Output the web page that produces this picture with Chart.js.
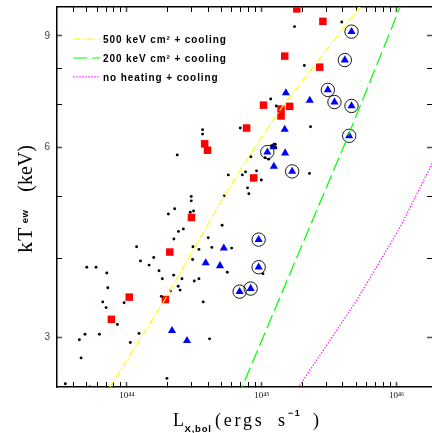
<!DOCTYPE html>
<html>
<head>
<meta charset="utf-8">
<script src="https://cdn.jsdelivr.net/npm/chart.js@4.4.1/dist/chart.umd.min.js"></script>
<style>
html,body{margin:0;padding:0;background:#fff;overflow:hidden;}
#wrap{width:432px;height:433px;position:relative;}
#wrap canvas{display:block;}
</style>
</head>
<body>
<div id="wrap"><canvas id="c"></canvas></div>
<script>
// ---- data (L_X,bol in erg/s, kT_ew in keV) ----
const dotsL = [3.64e44,3.64e44,2.36e44,3.00e44,3.00e44,2.26e44,2.03e44,2.95e44,3.12e44,5.26e44,
  5.08e44,2.62e44,2.41e44,2.23e44,4.01e44,3.09e44,3.42e44,4.26e44,5.98e44,1.58e44,
  1.46e44,1.26e44,1.18e44,3.07e44,1.73e44,2.22e44,5.55e44,1.83e44,2.56e44,3.42e44,
  3.16e44,2.40e44,2.48e44,2.10e44,1.80e44,3.68e44,5.04e43,5.90e43,7.09e43,7.21e43,
  6.62e43,7.01e43,9.53e43,8.50e43,4.44e43,4.89e43,6.25e43,1.23e44,4.10e44,1.06e44,
  4.57e43,3.49e43,5.30e43,1.98e44,1.165e45,1.28e45,6.93e44,1.18e45,1.26e45,1.27e45,
  1.06e45,1.125e45,8.30e44,5.65e44,7.18e44,7.58e44,9.15e44,9.93e44,7.84e44,8.02e44,
  1.75e45,3.92e45,2.07e45,2.30e45,2.26e45,1.02e45];
const dotsKT = [6.39,6.29,5.83,5.01,4.93,4.79,4.70,4.73,4.75,5.02,
  4.51,4.45,4.41,4.29,4.31,4.17,4.13,4.16,4.15,4.01,
  3.90,3.96,4.17,3.98,3.82,3.76,3.80,3.71,3.71,3.71,
  3.68,3.61,3.56,3.55,3.48,3.41,3.87,3.87,3.79,3.59,
  3.41,3.34,3.40,3.14,2.97,3.03,3.03,3.04,2.98,2.94,
  2.78,2.53,2.50,2.58,7.15,6.97,6.43,6.03,6.06,5.99,
  5.77,5.74,5.79,5.42,5.42,5.48,5.50,5.32,5.17,5.06,
  9.31,9.47,8.08,6.46,5.45,3.78];

const squaresL = [1.82e45,2.84e45,1.48e45,2.69e45,1.03e45,1.39e45,1.61e45,1.39e45,7.72e44,3.77e44,
  3.96e44,8.71e44,3.01e44,2.08e44,1.93e44,1.04e44,7.67e43];
const squaresKT = [9.93,9.49,8.36,8.03,6.99,6.89,6.96,6.72,6.43,6.07,
  5.93,5.36,4.64,4.09,3.44,3.47,3.20];

const trianglesL = [1.51e45,2.27e45,1.48e45,1.22e45,1.49e45,1.23e45,5.23e44,4.90e44,3.84e44,2.16e44,2.79e44];
const trianglesKT = [7.31,7.11,6.40,6.00,5.87,5.59,4.15,3.89,3.93,3.07,2.96];

const circledL = [4.63e45,4.13e45,3.09e45,3.46e45,4.63e45,4.45e45,1.10e45,1.68e45,9.48e44,9.48e44,6.85e44,8.27e44];
const circledKT = [9.14,8.24,7.39,7.07,6.97,6.25,5.89,5.49,4.28,3.87,3.54,3.58];

const yellowL = [6.65e43,7.50e43,1.93e44,5.27e44,7.99e44,1.38e45,5.25e45,6.35e45];
const yellowKT = [2.40,2.50,3.45,5.02,5.79,6.89,9.96,10.5];
const greenL = [6.59e44,7.14e44,4.25e45,1.053e46,1.163e46];
const greenKT = [2.40,2.50,6.16,9.96,10.5];
const magentaL = [1.655e45,1.88e45,5.11e45,1.07e46,1.79e46,2.0e46];
const magentaKT = [2.40,2.50,3.44,4.49,5.59,5.86];

const legendLabels = ['500 keV cm\u00B2 + cooling','200 keV cm\u00B2 + cooling','no heating + cooling'];

const xTickValues = [4e43,5e43,6e43,7e43,8e43,9e43,
  1e44,2e44,3e44,4e44,5e44,6e44,7e44,8e44,9e44,
  1e45,2e45,3e45,4e45,5e45,6e45,7e45,8e45,9e45,1e46];
const xTickLabels = ['','','','','','',
  '10\u2074\u2074','','','','','','','','',
  '10\u2074\u2075','','','','','','','','','10\u2074\u2076'];
const yTickValues = [3,4,5,6,7,8,9];
const yTickLabels = ['3','','','6','','','9'];

const X_MIN = 3.03e43, X_MAX = 1.83e46, Y_MIN = 2.5, Y_MAX = 10;

// ---- helpers ----
const toXY = (xs, ys) => xs.map((x, i) => ({x: x, y: ys[i]}));
const isMajorX = v => xTickLabels[xTickValues.indexOf(v)] !== '';
const isMajorY = v => yTickLabels[yTickValues.indexOf(v)] !== '';
const noPad = s => { s.paddingTop = 0; s.paddingBottom = 0; s.paddingLeft = 0; s.paddingRight = 0; };

function tickGrid(majorFn) {
  return {
    drawOnChartArea: false,
    drawTicks: true,
    tickLength: -5,
    tickColor: c => (c.tick && majorFn(c.tick.value)) ? '#555' : '#000',
    tickWidth: c => (c.tick && majorFn(c.tick.value)) ? 1.6 : 1
  };
}

const overlay = {
  id: 'overlay',
  afterDraw(chart) {
    const ctx = chart.ctx;
    const ca = chart.chartArea;
    // legend inside plot
    const items = chart.data.datasets.filter(d => d.isModel);
    items.forEach((d, i) => {
      const y = ca.top + 32.2 + i * 18.8;
      ctx.save();
      ctx.strokeStyle = d.borderColor;
      ctx.lineWidth = d.borderWidth;
      ctx.setLineDash(d.borderDash || []);
      ctx.beginPath();
      ctx.moveTo(ca.left + 16.3, y);
      ctx.lineTo(ca.left + 43, y);
      ctx.stroke();
      ctx.setLineDash([]);
      ctx.fillStyle = '#000';
      ctx.font = 'bold 10px "Liberation Sans", Arial, sans-serif';
      ctx.letterSpacing = '0.9px';
      ctx.textBaseline = 'alphabetic';
      ctx.textAlign = 'left';
      ctx.fillText(d.label, ca.left + 46, y + 4.2);
      ctx.restore();
    });

    // x axis title: L_{X,bol} (ergs s^-1)
    ctx.save();
    ctx.fillStyle = '#000';
    ctx.textBaseline = 'alphabetic';
    ctx.textAlign = 'left';
    ctx.font = '18px "Liberation Serif", "Times New Roman", serif';
    ctx.letterSpacing = '0px';
    ctx.fillText('L', 173, 425.7);
    ctx.font = 'bold 9.5px "Liberation Sans", Arial, sans-serif';
    ctx.letterSpacing = '0.8px';
    ctx.fillText('X,bol', 184.5, 432);
    ctx.font = '18px "Liberation Serif", "Times New Roman", serif';
    ctx.letterSpacing = '2.8px';
    ctx.fillText('(ergs', 215, 425.7);
    ctx.fillText('s', 278, 425.7);
    ctx.font = 'bold 9px "Liberation Sans", Arial, sans-serif';
    ctx.letterSpacing = '1.5px';
    ctx.fillText('\u22121', 288, 415.5);
    ctx.font = '18px "Liberation Serif", "Times New Roman", serif';
    ctx.letterSpacing = '0px';
    ctx.fillText(')', 313, 425.7);
    ctx.restore();

    // y axis title: kT_{ew} (keV)
    ctx.save();
    ctx.translate(31.5, 253);
    ctx.rotate(-Math.PI / 2);
    ctx.fillStyle = '#000';
    ctx.textBaseline = 'alphabetic';
    ctx.textAlign = 'left';
    ctx.font = '22px "Liberation Serif", "Times New Roman", serif';
    ctx.letterSpacing = '1px';
    ctx.fillText('kT', 0, 0);
    ctx.font = 'bold 9.5px "Liberation Sans", Arial, sans-serif';
    ctx.letterSpacing = '0.5px';
    ctx.fillText('ew', 29.7, -3.5);
    ctx.font = '20px "Liberation Serif", "Times New Roman", serif';
    ctx.letterSpacing = '0px';
    ctx.fillText('(keV)', 61.3, 0);
    ctx.restore();
  }
};

new Chart(document.getElementById('c'), {
  type: 'scatter',
  data: {
    datasets: [
      {label: legendLabels[0], isModel: true, data: toXY(yellowL, yellowKT), showLine: true,
       borderColor: '#ffff00', borderWidth: 1.2, borderDash: [7, 2, 1.5, 2], pointRadius: 0, fill: false},
      {label: legendLabels[1], isModel: true, data: toXY(greenL, greenKT), showLine: true,
       borderColor: '#00ff00', borderWidth: 1.2, borderDash: [14, 5], pointRadius: 0, fill: false},
      {label: legendLabels[2], isModel: true, data: toXY(magentaL, magentaKT), showLine: true,
       borderColor: '#ff00ff', borderWidth: 1.2, borderDash: [1.3, 1.7], pointRadius: 0, fill: false},
      {label: 'other clusters', data: toXY(dotsL, dotsKT), showLine: false,
       pointRadius: 1.45, pointBackgroundColor: '#000', pointBorderWidth: 0, pointStyle: 'circle'},
      {label: 'squares', data: toXY(squaresL, squaresKT), showLine: false,
       pointRadius: 5.3, pointBackgroundColor: '#ff0000', pointBorderWidth: 0, pointStyle: 'rect'},
      {label: 'triangles', data: toXY(trianglesL, trianglesKT), showLine: false,
       pointRadius: 4.7, pointBackgroundColor: '#0000ff', pointBorderWidth: 0, pointStyle: 'triangle'},
      {label: 'circled triangles', data: toXY(circledL, circledKT), showLine: false,
       pointRadius: 4.7, pointBackgroundColor: '#0000ff', pointBorderWidth: 0, pointStyle: 'triangle'},
      {label: 'rings', data: toXY(circledL, circledKT), showLine: false,
       pointRadius: 6.7, pointBackgroundColor: 'rgba(0,0,0,0)', pointBorderColor: '#000', pointBorderWidth: 0.9, pointStyle: 'circle'}
    ]
  },
  options: {
    responsive: true,
    maintainAspectRatio: false,
    animation: false,
    layout: {padding: 0, autoPadding: false},
    plugins: {legend: {display: false}, tooltip: {enabled: false}},
    scales: {
      x: {
        type: 'logarithmic', position: 'bottom', min: X_MIN, max: X_MAX,
        afterBuildTicks: s => { s.ticks = xTickValues.map(v => ({value: v})); },
        afterFit: s => { s.height = 46; noPad(s); },
        ticks: {autoSkip: false, maxRotation: 0, minRotation: 0, padding: 8,
          font: {family: '"Liberation Serif", serif', size: 9}, color: '#111',
          callback: v => xTickLabels[xTickValues.indexOf(v)] || ''},
        grid: tickGrid(isMajorX),
        border: {display: true, color: '#000', width: 1.5}
      },
      xTop: {
        type: 'logarithmic', position: 'top', min: X_MIN, max: X_MAX,
        afterBuildTicks: s => { s.ticks = xTickValues.map(v => ({value: v})); },
        afterFit: s => { s.height = 7; noPad(s); },
        ticks: {display: false},
        grid: tickGrid(isMajorX),
        border: {display: true, color: '#000', width: 1.5}
      },
      y: {
        type: 'logarithmic', position: 'left', min: Y_MIN, max: Y_MAX,
        afterBuildTicks: s => { s.ticks = yTickValues.map(v => ({value: v})); },
        afterFit: s => { s.width = 57; noPad(s); },
        ticks: {autoSkip: false, padding: 12,
          font: {family: '"Liberation Sans", Arial, sans-serif', size: 10}, color: '#444',
          callback: v => yTickLabels[yTickValues.indexOf(v)] || ''},
        grid: tickGrid(isMajorY),
        border: {display: true, color: '#000', width: 1.5}
      },
      yRight: {
        type: 'logarithmic', position: 'right', min: Y_MIN, max: Y_MAX,
        afterBuildTicks: s => { s.ticks = yTickValues.map(v => ({value: v})); },
        afterFit: s => { s.width = 0; noPad(s); },
        ticks: {display: false},
        grid: tickGrid(isMajorY),
        border: {display: false}
      }
    }
  },
  plugins: [overlay]
});
</script>
</body>
</html>
